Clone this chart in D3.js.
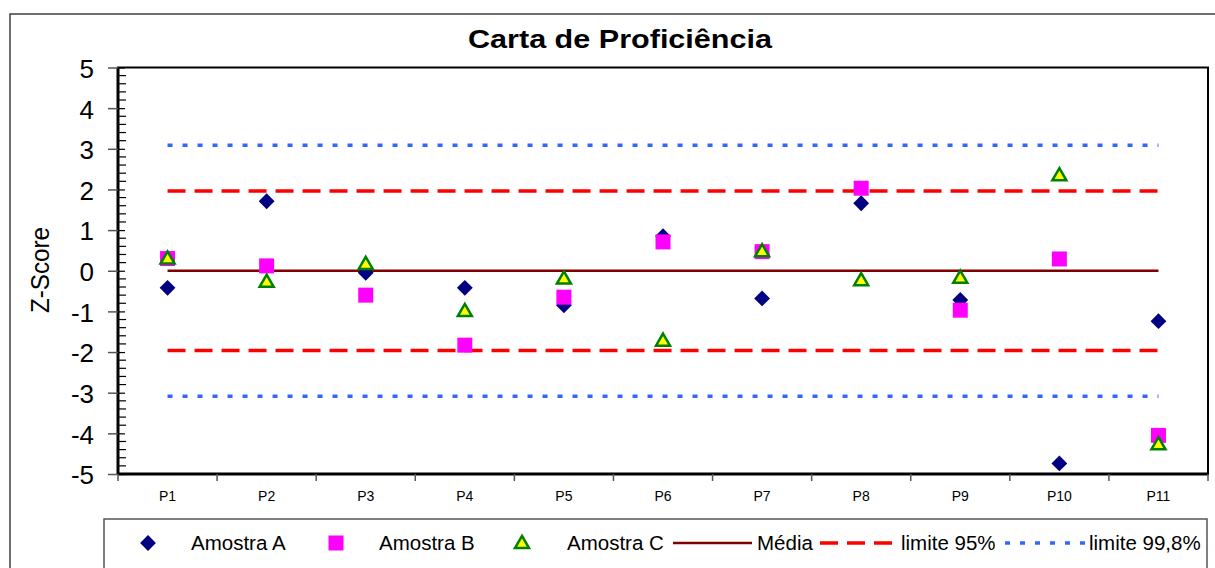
<!DOCTYPE html>
<html>
<head>
<meta charset="utf-8">
<script src="https://cdn.jsdelivr.net/npm/d3@7"></script>
<style>
	body { margin: 0; background: #fff; }
	svg { display: block; font-family: Arial, 'Liberation Sans', sans-serif; }
	.title { font-weight: bold; }
</style>
</head>
<body>
<script>
// data
const categories = ['P1', 'P2', 'P3', 'P4', 'P5', 'P6', 'P7', 'P8', 'P9', 'P10', 'P11'];
const amostraA = [-0.42, 1.71, -0.05, -0.42, -0.85, 0.85, -0.68, 1.66, -0.72, -4.74, -1.24];
const amostraB = [0.30, 0.12, -0.60, -1.83, -0.65, 0.71, 0.47, 2.03, -0.97, 0.29, -4.05];
const amostraC = [0.30, -0.27, 0.17, -0.99, -0.19, -1.72, 0.48, -0.23, -0.17, 2.35, -4.27];
const media = 0;
const limite95 = 1.96;
const limite998 = 3.09;
const yTicks = [-5, -4, -3, -2, -1, 0, 1, 2, 3, 4, 5];

// svg params
const svgW = 1215;
const svgH = 568;
const plot = { left: 118, right: 1208, top: 67.5, bottom: 474 };

const svg = d3.select('body').append('svg').attr('width', svgW).attr('height', svgH);

const x = d3.scaleBand().domain(categories).range([ plot.left, plot.right ]).padding(0);
const y = d3.scaleLinear().domain([ -5, 5 ]).range([ plot.bottom, plot.top ]);
const cx = (c) => x(c) + x.bandwidth() / 2;

// outer chart frame
svg.append('rect')
	.attr('x', 10).attr('y', 14).attr('width', 1215).attr('height', 570)
	.attr('fill', 'none').attr('stroke', '#404040').attr('stroke-width', 1.5);

// title
svg.append('text')
	.attr('class', 'title')
	.attr('x', 620).attr('y', 48)
	.attr('text-anchor', 'middle')
	.attr('font-size', 26)
	.attr('textLength', 304).attr('lengthAdjust', 'spacingAndGlyphs')
	.text('Carta de Proficiência');

// z-score label
svg.append('text')
	.attr('transform', 'translate(49, 270) rotate(-90)')
	.attr('text-anchor', 'middle')
	.attr('font-size', 25)
	.attr('textLength', 86).attr('lengthAdjust', 'spacingAndGlyphs')
	.text('Z-Score');

/*
	reference lines
*/
const xFirst = cx(categories[0]);
const xLast = cx(categories[categories.length - 1]);
const hLine = (v, color, width, dash) => {
	svg.append('line')
		.attr('x1', xFirst).attr('x2', xLast)
		.attr('y1', y(v)).attr('y2', y(v))
		.attr('stroke', color)
		.attr('stroke-width', width)
		.attr('stroke-dasharray', dash);
};
hLine(limite998, '#3366FF', 3.5, '5,10');
hLine(-limite998, '#3366FF', 3.5, '5,10');
hLine(limite95, '#FF0000', 3.5, '18,9');
hLine(-limite95, '#FF0000', 3.5, '18,9');
hLine(media, '#800000', 2.5, null);

/*
	markers
*/
const diamond = d3.symbol().type(d3.symbolSquare).size(125);
const square = d3.symbol().type(d3.symbolSquare).size(225);
const triangle = d3.symbol().type(d3.symbolTriangle).size(85);

const drawDiamond = (g, px, py) =>
	g.append('path').attr('d', diamond).attr('transform', `translate(${px},${py}) rotate(45)`).attr('fill', '#000080');
const drawSquare = (g, px, py) =>
	g.append('path').attr('d', square).attr('transform', `translate(${px},${py})`).attr('fill', '#FF00FF');
const drawTriangle = (g, px, py) =>
	g.append('path').attr('d', triangle).attr('transform', `translate(${px},${py + 1})`)
		.attr('fill', '#FFFF00').attr('stroke', '#008000').attr('stroke-width', 2.5);

const marks = svg.append('g');
categories.forEach((c, i) => drawDiamond(marks, cx(c), y(amostraA[i])));
categories.forEach((c, i) => drawSquare(marks, cx(c), y(amostraB[i])));
categories.forEach((c, i) => drawTriangle(marks, cx(c), y(amostraC[i])));

/*
	plot frame and axes
*/
svg.append('rect')
	.attr('x', plot.left).attr('y', plot.top)
	.attr('width', plot.right - plot.left).attr('height', plot.bottom - plot.top)
	.attr('fill', 'none').attr('stroke', '#000').attr('stroke-width', 2);
svg.append('line')
	.attr('x1', plot.left).attr('x2', plot.left)
	.attr('y1', plot.top).attr('y2', plot.bottom + 1)
	.attr('stroke', '#000').attr('stroke-width', 3);
svg.append('line')
	.attr('x1', plot.left).attr('x2', plot.right)
	.attr('y1', plot.bottom).attr('y2', plot.bottom)
	.attr('stroke', '#000').attr('stroke-width', 3);

// minor y ticks
const minor = d3.range(-50, 51, 2).map((d) => d / 10).filter((d) => Math.abs(d % 1) > 0.01);
svg.append('g').selectAll('line').data(minor).join('line')
	.attr('x1', plot.left).attr('x2', plot.left + 8)
	.attr('y1', (d) => y(d)).attr('y2', (d) => y(d))
	.attr('stroke', '#000').attr('stroke-width', 1.2);

// major y ticks and labels
const yAxis = svg.append('g')
	.attr('transform', `translate(${plot.left}, 0)`)
	.call(d3.axisLeft(y).tickValues(yTicks).tickSize(10).tickPadding(14).tickFormat((d) => String(d)));
yAxis.select('.domain').remove();
yAxis.selectAll('.tick line').attr('stroke', '#555').attr('stroke-width', 1.5);
yAxis.selectAll('.tick').append('line')
	.attr('x1', 0).attr('x2', 7).attr('stroke', '#000').attr('stroke-width', 1.2);
yAxis.selectAll('.tick text')
	.attr('font-size', 26)
	.attr('font-family', 'Arial, Liberation Sans, sans-serif')
	.attr('fill', '#000')
	.attr('dy', '0.38em');

// x axis
const xAxis = svg.append('g')
	.attr('transform', `translate(0, ${plot.bottom})`)
	.call(d3.axisBottom(x).tickSize(0).tickPadding(17));
xAxis.select('.domain').remove();
xAxis.selectAll('.tick text')
	.attr('font-size', 14)
	.attr('font-family', 'Arial, Liberation Sans, sans-serif')
	.attr('fill', '#000');
const boundaries = categories.map((c) => x(c)).concat([ plot.right ]);
svg.append('g').selectAll('line').data(boundaries).join('line')
	.attr('x1', (d) => d).attr('x2', (d) => d)
	.attr('y1', plot.bottom).attr('y2', plot.bottom + 7)
	.attr('stroke', '#555').attr('stroke-width', 1.5);

/*
	legend
*/
svg.append('rect')
	.attr('x', 104).attr('y', 519).attr('width', 1103).attr('height', 60)
	.attr('fill', '#fff').attr('stroke', '#555').attr('stroke-width', 1.5);

const ly = 543;
const leg = svg.append('g');
const legText = (px, label) =>
	leg.append('text').attr('x', px).attr('y', ly).attr('dy', '0.36em')
		.attr('font-size', 20.5).text(label);

drawDiamond(leg, 148, ly);
legText(191, 'Amostra A');
drawSquare(leg, 336, ly);
legText(379, 'Amostra B');
drawTriangle(leg, 522, ly);
legText(567, 'Amostra C');

const legLine = (x1, x2, color, width, dash) =>
	leg.append('line').attr('x1', x1).attr('x2', x2).attr('y1', ly).attr('y2', ly)
		.attr('stroke', color).attr('stroke-width', width).attr('stroke-dasharray', dash);
legLine(673, 752, '#800000', 2.5, null);
legText(757, 'Média');
legLine(820, 894, '#FF0000', 3.5, '18,9');
legText(901, 'limite 95%');
legLine(1005, 1086, '#3366FF', 3.5, '5,10');
legText(1089, 'limite 99,8%');
</script>
</body>
</html>
